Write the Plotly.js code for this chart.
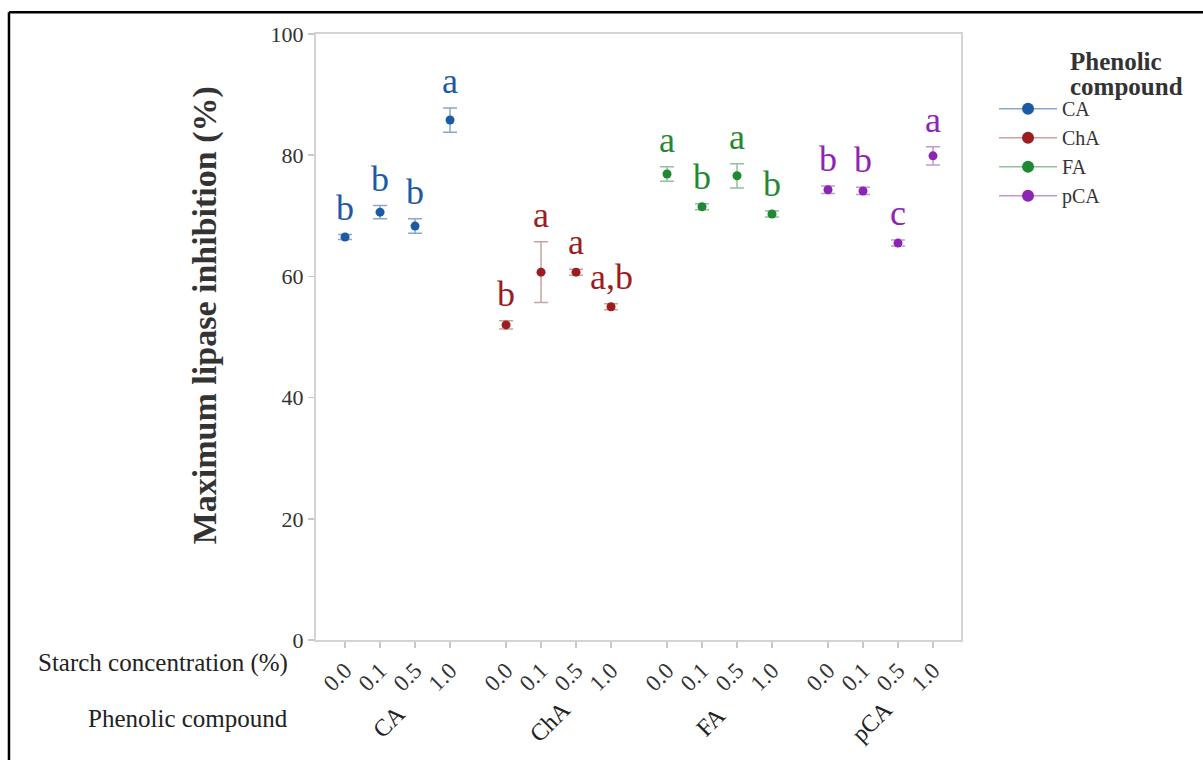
<!DOCTYPE html>
<html>
<head>
<meta charset="utf-8">
<script src="https://cdn.plot.ly/plotly-3.0.1.min.js"></script>
<style>html,body{margin:0;padding:0;background:#fff;}#chart{width:1203px;height:760px;}</style>
</head>
<body>
<div id="chart"></div>
<script>
// ---- data ----
var concentrations = ['0.0', '0.1', '0.5', '1.0'];
var compounds = ['CA', 'ChA', 'FA', 'pCA'];

var CA_mean  = [66.5, 70.6, 68.3, 85.8];
var CA_err   = [0.4, 1.1, 1.2, 2.0];
var CA_lett  = ['b', 'b', 'b', 'a'];

var ChA_mean = [52.0, 60.7, 60.7, 55.0];
var ChA_err  = [0.7, 5.0, 0.5, 0.5];
var ChA_lett = ['b', 'a', 'a', 'a,b'];

var FA_mean  = [76.9, 71.5, 76.6, 70.3];
var FA_err   = [1.2, 0.5, 2.0, 0.5];
var FA_lett  = ['a', 'b', 'a', 'b'];

var pCA_mean = [74.3, 74.1, 65.5, 79.9];
var pCA_err  = [0.6, 0.6, 0.5, 1.5];
var pCA_lett = ['b', 'b', 'c', 'a'];

var yTicks = [0, 20, 40, 60, 80, 100];
var legendTitleLines = ['Phenolic', 'compound'];

// ---- styling ----
var colors    = ['#1b5ba6', '#9b1d1f', '#1f8a33', '#8c25b6'];
var errColors = ['#8aa6cf', '#c9a2a2', '#93bf9b', '#c29ad3'];
var SERIF = '"Liberation Serif", "Times New Roman", serif';
var GROUP_GAP = 4.6;

var means = [CA_mean, ChA_mean, FA_mean, pCA_mean];
var errs = [CA_err, ChA_err, FA_err, pCA_err];
var letters = [CA_lett, ChA_lett, FA_lett, pCA_lett];

var traces = [];
var annotations = [];
var tickvals = [], ticktext = [];

compounds.forEach(function (c, g) {
  var xs = concentrations.map(function (_, i) { return g * GROUP_GAP + i; });
  xs.forEach(function (x, i) { tickvals.push(x); ticktext.push(concentrations[i]); });
  traces.push({
    type: 'scatter', mode: 'markers', x: xs, y: means[g], name: c, showlegend: false,
    marker: { color: colors[g], size: 9 },
    error_y: { type: 'data', array: errs[g], visible: true, color: errColors[g], thickness: 1.5, width: 7 },
    hoverinfo: 'x+y'
  });
  // legend-only entry
  traces.push({
    type: 'scatter', mode: 'lines+markers', x: [null], y: [null], name: c, showlegend: true,
    marker: { color: colors[g], size: 12 }, line: { color: errColors[g], width: 1.5 }
  });
  xs.forEach(function (x, i) {
    annotations.push({
      x: x, y: means[g][i] + errs[g][i], xref: 'x', yref: 'y',
      text: letters[g][i], showarrow: false, xanchor: 'center', yanchor: 'bottom', yshift: 5,
      font: { family: SERIF, size: 36, color: colors[g] }
    });
  });
  annotations.push({
    x: g * GROUP_GAP + 1.5, y: -0.135, xref: 'x', yref: 'paper', text: c, showarrow: false,
    textangle: -45, xanchor: 'center', yanchor: 'middle', xshift: -9,
    font: { family: SERIF, size: 24, color: '#222' }
  });
});

annotations.push({
  x: -0.04, y: -0.038, xref: 'paper', yref: 'paper', text: 'Starch concentration (%)',
  showarrow: false, xanchor: 'right', yanchor: 'middle',
  font: { family: SERIF, size: 25, color: '#222' }
});
annotations.push({
  x: -0.04, y: -0.129, xref: 'paper', yref: 'paper', text: 'Phenolic compound',
  showarrow: false, xanchor: 'right', yanchor: 'middle',
  font: { family: SERIF, size: 25, color: '#222' }
});
annotations.push({
  x: -0.172, y: 0.536, xref: 'paper', yref: 'paper', text: '<b>Maximum lipase inhibition (%)</b>',
  showarrow: false, textangle: -90, xanchor: 'center', yanchor: 'middle',
  font: { family: SERIF, size: 34, color: '#333' }
});
legendTitleLines.forEach(function (t, k) {
  annotations.push({
    x: 1.166, y: 0.954 - k * 0.04, xref: 'paper', yref: 'paper', text: '<b>' + t + '</b>',
    showarrow: false, xanchor: 'left', yanchor: 'middle',
    font: { family: SERIF, size: 25, color: '#333' }
  });
});

var layout = {
  width: 1203, height: 760,
  margin: { l: 316, r: 242, t: 34, b: 120, pad: 0 },
  paper_bgcolor: '#fff', plot_bgcolor: '#fff',
  showlegend: true,
  legend: {
    x: 1.0512, y: 0.909, xanchor: 'left', yanchor: 'top',
    font: { family: SERIF, size: 20, color: '#333' },
    itemwidth: 58,
    bgcolor: 'rgba(0,0,0,0)', tracegroupgap: 0
  },
  xaxis: {
    range: [-0.83, 17.6], tickvals: tickvals, ticktext: ticktext, tickangle: -45,
    tickfont: { family: SERIF, size: 23, color: '#333' },
    ticks: 'outside', ticklen: 6, tickcolor: '#c8c8c8', tickwidth: 1.5,
    showgrid: false, zeroline: false, showline: true, mirror: true, linecolor: '#d4d4d4', linewidth: 2,
    automargin: false
  },
  yaxis: {
    range: [0, 100], tickvals: yTicks,
    tickfont: { family: SERIF, size: 22, color: '#333' },
    ticks: 'outside', ticklen: 6, tickcolor: '#c8c8c8', tickwidth: 1.5,
    showgrid: false, zeroline: false, showline: true, mirror: true, linecolor: '#d4d4d4', linewidth: 2,
    automargin: false
  },
  annotations: annotations,
  shapes: [
    { type: 'line', xref: 'paper', yref: 'paper', x0: -0.476, x1: -0.476, y0: 1.036, y1: -0.3, line: { color: '#000', width: 2.5 } },
    { type: 'line', xref: 'paper', yref: 'paper', x0: -0.476, x1: 1.5, y0: 1.036, y1: 1.036, line: { color: '#000', width: 2.5 } }
  ]
};

Plotly.newPlot('chart', traces, layout, { displayModeBar: false, staticPlot: true });
</script>
</body>
</html>
